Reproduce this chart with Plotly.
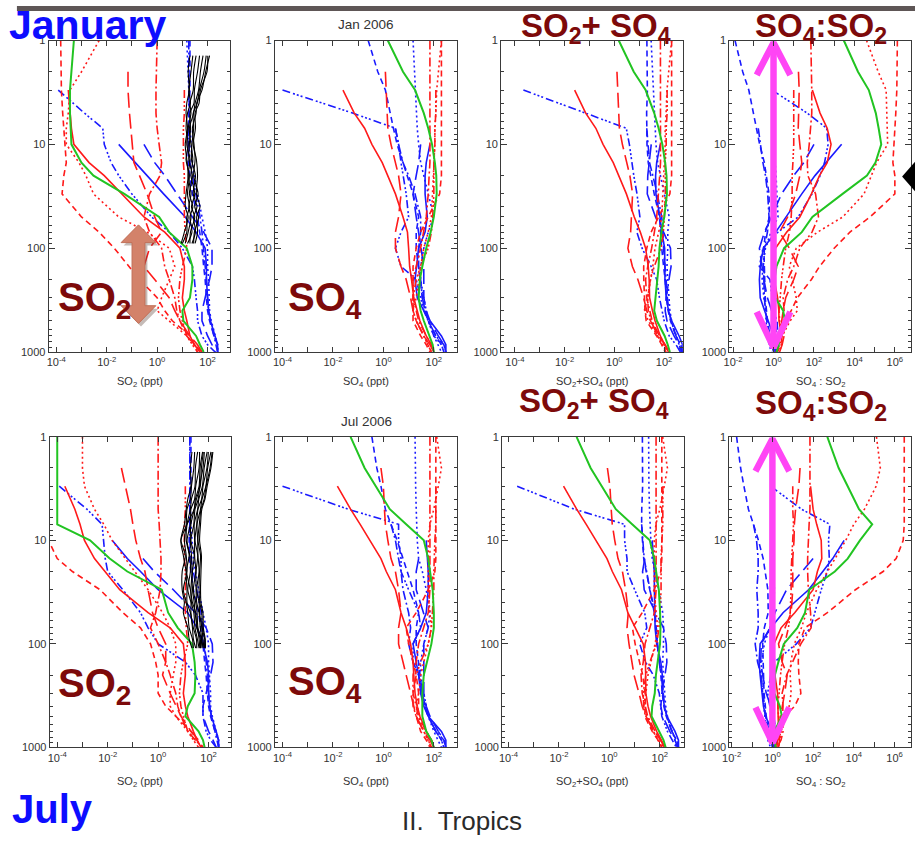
import plotly.graph_objects as go

N = None

# Pressure levels (hPa) shared by all model profiles
P = [1, 2, 3, 5, 7, 10, 15, 20, 30, 50, 70, 100, 150, 200, 300, 400, 500, 700, 850, 1000]

# ---------------- January, SO2 (ppt) ----------------
jan_so2_red_solid = [N, N, 3e-4, 3.5e-4, 4e-4, 5e-4, 2e-3, 8e-3, 0.04, 0.3, 2, 8, 12, 12, 10, 12, 15, 20, 30, 50]
jan_so2_red_dot = [5e-3, 1e-3, 3.5e-4, 3e-4, 2.5e-4, 2.5e-4, 8e-4, 1.5e-3, 3e-3, 0.03, 0.4, 3, 5, 3, 1.5, 1, 3, 15, 30, 60]
jan_so2_red_dash = [1.5e-4, 1.5e-4, 1.6e-4, 1.8e-4, 2e-4, 2.2e-4, 2.5e-4, 2e-4, 1.7e-4, 1e-3, 5e-3, 0.02, 0.08, 0.2, 1, 2, 4, 20, 30, 40]
jan_so2_red_dashdot = [1, 0.9, 0.9, 0.9, 1, 1.2, 1.5, 1.3, 0.5, 0.3, 0.5, 1.5, 2, 3, 5, 6, 8, 15, 30, 60]
jan_so2_red_dash3dot = [N, N, 12, 12, 11, 11, 11, 12, 12, 12, 13, 15, 10, 8, 7, 8, 10, 15, 25, 40]
jan_so2_red_longdash = [N, 0.07, 0.07, 0.08, 0.09, 0.1, 0.12, 0.2, 0.4, 0.8, 1.5, 0.5, 0.3, 0.8, 3, 5, 8, 20, 40, 60]
jan_so2_blue_solid = [N, N, N, N, N, 0.03, 0.13, 0.4, 1.8, 13, 35, 80, 90, 90, 100, 110, 130, 200, 250, 250]
jan_so2_blue_dot = [15, 17, 18, 20, 20, 22, 25, 30, 40, 60, 80, 100, 100, 110, 120, 120, 140, 200, 250, 250]
jan_so2_blue_dash = [20, 20, 20, 18, 17, 17, 17, 20, 25, 40, 50, 60, 70, 80, 90, 100, 120, 180, 250, 250]
jan_so2_blue_dashdot = [18, 18, 18, 17, 17, 18, 20, 25, 35, 50, 60, 70, 80, 90, 100, 110, 130, 180, 220, 250]
jan_so2_blue_dash3dot = [N, N, 1.2e-4, 1.3e-3, 7e-3, 8e-3, 0.015, 0.03, 0.1, 0.6, 3, 10, 25, 30, 35, 40, 40, 60, 100, 200]
jan_so2_blue_longdash = [N, N, N, N, N, 0.3, 0.8, 2, 6, 25, 70, 150, 150, 120, 80, 60, 60, 100, 150, 200]
jan_so2_green = [5e-4, 4e-4, 3.5e-4, 3.5e-4, 3.8e-4, 4e-4, 1e-3, 3e-3, 0.05, 1.2, 3, 15, 25, 25, 20, 10, 11, 35, 50, 70]

# ---------------- January, SO4 (ppt) ----------------
jan_so4_red_solid = [N, N, 0.025, 0.07, 0.18, 0.35, 0.9, 1.5, 3, 6, 9, 10, 11, 13, 16, 22, 28, 50, 80, 100]
jan_so4_red_dot = [200, 150, 130, 120, 110, 110, 100, 100, 90, 80, 60, 40, 30, 25, 20, 15, 20, 40, 60, 80]
jan_so4_red_dash = [200, 200, 200, 200, 200, 200, 200, 200, 170, 60, 30, 20, 15, 15, 15, 15, 15, 30, 50, 70]
jan_so4_red_dashdot = [70, 70, 70, 70, 70, 70, 70, 65, 60, 50, 40, 30, 20, 15, 15, 20, 25, 50, 80, 100]
jan_so4_red_dash3dot = [N, N, 120, 120, 110, 110, 100, 100, 100, 90, 80, 60, 30, 20, 15, 15, 20, 40, 60, 80]
jan_so4_red_longdash = [N, 1.2, 1.3, 1.4, 1.5, 2, 3, 4, 5, 4, 3, 3, 5, 8, 12, 15, 20, 40, 70, 100]
jan_so4_blue_solid = [N, N, N, N, N, 70, 50, 45, 45, 55, 45, 25, 20, 18, 22, 40, 70, 200, 300, 300]
jan_so4_blue_dot = [15, 17, 19, 20, 22, 25, 30, 40, 60, 100, 60, 40, 30, 30, 40, 50, 60, 100, 150, 200]
jan_so4_blue_dash = [0.25, 0.6, 1.2, 1.8, 2.5, 3.5, 6, 9, 15, 25, 20, 20, 25, 30, 35, 45, 60, 120, 200, 250]
jan_so4_blue_dashdot = [N, N, N, N, 3, 4, 6, 10, 18, 30, 30, 25, 25, 30, 35, 45, 60, 120, 250, 300]
jan_so4_blue_dash3dot = [N, N, 1e-4, 0.06, 3, 4, 5, 6, 8, 10, 5, 3, 5, 20, 30, 40, 60, 100, 200, 250]
jan_so4_blue_longdash = [N, N, N, N, N, 30, 25, 20, 15, 20, 25, 30, 40, 40, 40, 50, 70, 150, 250, 300]
jan_so4_green = [1.5, 6, 18, 40, 60, 85, 110, 125, 130, 100, 75, 50, 35, 28, 25, 30, 40, 70, 90, 100]

# ---------------- July, SO2 (ppt) ----------------
jul_so2_red_solid = [N, N, 2e-4, 5e-4, 8e-4, 1.2e-3, 3e-3, 8e-3, 0.03, 0.4, 3, 10, 12, 12, 10, 12, 15, 25, 35, 50]
jul_so2_red_dot = [1e-3, 1e-3, 1.2e-3, 3e-3, 7e-3, 0.015, 0.05, 0.12, 0.4, 1.5, 3, 5, 5, 4, 3, 3, 5, 15, 30, 60]
jul_so2_red_dash = [4e-5, 4e-5, 4e-5, 4e-5, 4e-5, 4.5e-5, 1e-4, 4e-4, 5e-3, 0.04, 0.2, 0.5, 0.8, 1, 1, 2, 5, 20, 35, 50]
jul_so2_red_dashdot = [1, 1, 1, 1, 1.1, 1.2, 1.3, 1.3, 1.2, 0.8, 0.5, 1, 2, 3, 5, 6, 8, 15, 30, 60]
jul_so2_red_dash3dot = [N, N, 12, 12, 11, 11, 11, 12, 12, 12, 13, 15, 10, 8, 7, 8, 10, 15, 25, 40]
jul_so2_red_longdash = [N, 0.035, 0.05, 0.08, 0.1, 0.13, 0.2, 0.3, 0.4, 0.6, 1, 2, 2, 1.5, 3, 5, 8, 20, 40, 60]
jul_so2_blue_solid = [N, N, N, N, N, 0.015, 0.06, 0.2, 1, 15, 35, 60, 90, 100, 100, 110, 130, 200, 250, 250]
jul_so2_blue_dot = [18, 18, 18, 19, 20, 22, 25, 30, 40, 60, 80, 100, 100, 110, 120, 120, 140, 200, 250, 250]
jul_so2_blue_dash = [20, 20, 20, 18, 17, 17, 17, 20, 25, 40, 50, 60, 70, 80, 90, 100, 120, 180, 250, 250]
jul_so2_blue_dashdot = [18, 18, 18, 17, 17, 18, 20, 25, 35, 50, 60, 70, 80, 90, 100, 110, 130, 180, 220, 250]
jul_so2_blue_dash3dot = [N, N, 1.2e-4, 1.5e-3, 6e-3, 7e-3, 8e-3, 0.01, 0.04, 0.2, 0.4, 1, 12, 30, 60, 60, 60, 80, 120, 200]
jul_so2_blue_longdash = [N, N, N, N, N, N, 0.25, 0.7, 4, 30, 80, 140, 150, 120, 80, 60, 60, 100, 150, 200]
jul_so2_green = [1e-4, 1e-4, 1e-4, 1e-4, 1e-4, 2e-3, 0.012, 0.06, 1.4, 2.5, 6, 22, 28, 30, 28, 15, 12, 40, 60, 70]

# ---------------- July, SO4 (ppt) ----------------
jul_so4_red_solid = [N, N, 0.015, 0.05, 0.12, 0.3, 0.8, 1.3, 3, 5, 8, 12, 15, 16, 18, 22, 28, 50, 80, 100]
jul_so4_red_dot = [130, 200, 150, 100, 70, 60, 60, 60, 60, 70, 80, 60, 40, 30, 25, 20, 25, 40, 60, 80]
jul_so4_red_dash = [120, 120, 120, 120, 120, 120, 120, 110, 60, 20, 8, 10, 15, 20, 25, 25, 20, 30, 50, 70]
jul_so4_red_dashdot = [70, 70, 70, 70, 70, 70, 70, 70, 70, 60, 40, 25, 20, 15, 15, 20, 25, 50, 80, 100]
jul_so4_red_dash3dot = [N, N, 120, 120, 120, 110, 100, 100, 100, 90, 80, 60, 30, 20, 15, 15, 20, 40, 60, 80]
jul_so4_red_longdash = [N, 0.8, 1, 1.1, 1.2, 1.5, 2, 3, 4, 5, 4, 4, 6, 8, 12, 15, 20, 40, 70, 100]
jul_so4_blue_solid = [N, N, N, N, N, 50, 55, 60, 60, 50, 30, 15, 20, 25, 30, 40, 60, 200, 300, 300]
jul_so4_blue_dot = [18, 18, 19, 20, 21, 22, 25, 35, 50, 70, 60, 40, 30, 30, 40, 50, 60, 100, 150, 200]
jul_so4_blue_dash = [0.35, 0.55, 0.8, 1.2, 2, 3.5, 6, 9, 15, 25, 20, 20, 25, 30, 35, 45, 60, 120, 200, 250]
jul_so4_blue_dashdot = [N, N, N, N, 2, 3, 4, 5, 6, 10, 12, 10, 15, 25, 35, 45, 60, 120, 250, 300]
jul_so4_blue_dash3dot = [N, N, 1e-4, 0.04, 4, 4, 5, 5, 10, 25, 30, 15, 15, 25, 35, 45, 60, 120, 200, 250]
jul_so4_blue_longdash = [N, N, N, N, N, N, 25, 20, 20, 40, 60, 40, 40, 40, 40, 50, 70, 150, 250, 300]
jul_so4_green = [0.05, 0.18, 0.5, 1.8, 8, 40, 60, 70, 90, 100, 100, 80, 55, 40, 35, 35, 35, 50, 80, 100]

# ---------------- Observed SO2 profiles (ppt) ----------------
obs_p_jan = [1.4, 2, 3, 4, 5, 7, 10, 14, 20, 30, 40, 50, 70, 90]
obs_jan_1 = [20, 17, 19, 15, 14, 16, 13, 15, 17, 14, 13, 17, 12, 9]
obs_jan_2 = [26, 22, 18, 21, 16, 14, 17, 14, 19, 16, 19, 15, 15, 10]
obs_jan_3 = [35, 28, 27, 20, 22, 17, 15, 20, 17, 22, 18, 22, 17, 13]
obs_jan_4 = [48, 40, 30, 29, 20, 21, 19, 18, 25, 19, 26, 20, 24, 16]
obs_jan_5 = [66, 52, 44, 32, 28, 19, 22, 26, 22, 31, 23, 31, 21, 20]
obs_jan_6 = [88, 72, 47, 39, 27, 28, 24, 23, 33, 27, 38, 28, 33, 24]
obs_jan_7 = [120, 84, 60, 37, 35, 25, 29, 32, 28, 42, 31, 44, 30, 28]
obs_jan_8 = [102, 95, 52, 46, 32, 33, 27, 36, 40, 36, 50, 37, 40, 32]

obs_p_jul = [1.4, 2, 3, 4, 5, 7, 10, 14, 20, 30, 40, 50, 70, 90, 110]
obs_jul_1 = [22, 19, 20, 15, 13, 11, 8, 12, 9, 9, 11, 10, 15, 17, 22]
obs_jul_2 = [28, 26, 21, 19, 14, 13, 11, 13, 14, 10, 13, 15, 17, 23, 25]
obs_jul_3 = [37, 30, 29, 21, 19, 14, 13, 17, 13, 14, 14, 19, 23, 25, 31]
obs_jul_4 = [44, 42, 31, 28, 20, 19, 14, 18, 19, 15, 20, 20, 25, 33, 34]
obs_jul_5 = [58, 46, 42, 30, 27, 20, 19, 21, 22, 20, 21, 26, 29, 36, 42]
obs_jul_6 = [68, 60, 44, 39, 29, 26, 20, 27, 23, 23, 27, 29, 36, 42, 45]
obs_jul_7 = [88, 67, 57, 41, 37, 27, 28, 28, 31, 25, 31, 35, 38, 52, 50]
obs_jul_8 = [98, 86, 60, 53, 38, 34, 29, 37, 32, 32, 34, 42, 47, 54, 60]
obs_jul_9 = [124, 92, 78, 55, 48, 35, 37, 38, 42, 34, 42, 44, 54, 60, 66]
obs_jul_10 = [138, 114, 80, 67, 50, 43, 38, 48, 44, 42, 45, 54, 56, 70, 68]
obs_jul_11 = [62, 52, 47, 33, 27, 14, 8, 10, 13, 19, 23, 31, 34, 47, 48]
obs_jul_12 = [148, 124, 88, 72, 54, 48, 44, 52, 50, 48, 50, 60, 62, 74, 75]

# Axis tick decades
SPEC_DECADES = [-4, -3, -2, -1, 0, 1, 2]
RATIO_DECADES = [-2, -1, 0, 1, 2, 3, 4, 5, 6]
P_MAJOR = [1, 10, 100, 1000]
P_MINOR = [m * d for d in (1, 10, 100) for m in range(2, 10)]

RED, BLUE, GREEN = "#ff1a1a", "#1a1aff", "#22c422"
STYLE = {
    "blue_solid": (BLUE, "solid"),
    "blue_dot": (BLUE, "2px,3px"),
    "blue_dash": (BLUE, "6px,4px"),
    "blue_dashdot": (BLUE, "9px,3px,2px,3px"),
    "blue_dash3dot": (BLUE, "8px,3px,2px,2px,2px,2px,2px,3px"),
    "blue_longdash": (BLUE, "15px,6px"),
    "red_solid": (RED, "solid"),
    "red_dot": (RED, "2px,3px"),
    "red_dash": (RED, "6px,4px"),
    "red_dashdot": (RED, "9px,3px,2px,3px"),
    "red_dash3dot": (RED, "8px,3px,2px,2px,2px,2px,2px,3px"),
    "red_longdash": (RED, "15px,6px"),
    "green": (GREEN, "solid"),
}
ORDER = list(STYLE.keys())

g = globals()
SO2 = {m: {k: g[f"{m}_so2_{k}"] for k in ORDER} for m in ("jan", "jul")}
SO4 = {m: {k: g[f"{m}_so4_{k}"] for k in ORDER} for m in ("jan", "jul")}
OBS = {
    "jan": (obs_p_jan, [g[f"obs_jan_{i}"] for i in range(1, 9)]),
    "jul": (obs_p_jul, [g[f"obs_jul_{i}"] for i in range(1, 13)]),
}


def combine(a, b, op):
    return [None if (u is None or v is None) else op(u, v) for u, v in zip(a, b)]


W, H = 915, 850


def fx(px):
    return px / W


def fy(py):
    return 1 - py / H


# panel boxes in pixels: (left, right) per column and (top, bottom) per row
COLS_TOP = [(42, 225), (270, 453), (498, 681), (728, 911)]
COLS_BOT = [(43, 226), (270, 453), (499, 682), (728, 911)]
ROWS = [(35, 351), (437, 752)]
XRANGES = {
    0: [[-4.3, 2.9], [-4.3, 2.9], [-4.55, 2.75], [-2.18, 6.8]],
    1: [[-4.3, 2.9], [-4.3, 2.9], [-4.25, 2.95], [-2.11, 6.81]],
}

fig = go.Figure()
layout = {}
AX = "#3a3a3a"
tickfont = dict(family="Liberation Sans, Arial, sans-serif", size=11, color="#333333")

for r, month in enumerate(("jan", "jul")):
    cols = COLS_TOP if r == 0 else COLS_BOT
    for c in range(4):
        idx = r * 4 + c + 1
        xa = "x" if idx == 1 else f"x{idx}"
        ya = "y" if idx == 1 else f"y{idx}"
        decs = RATIO_DECADES if c == 3 else SPEC_DECADES
        layout["xaxis" if idx == 1 else f"xaxis{idx}"] = dict(
            domain=[fx(cols[c][0]), fx(cols[c][1])], anchor=ya, type="log",
            range=XRANGES[r][c], tickvals=[10.0 ** d for d in decs],
            ticktext=[f"10<sup>{d}</sup>" if d % 2 == 0 else "" for d in decs],
            ticks="inside", ticklen=5, tickcolor=AX, showline=True, linecolor=AX,
            linewidth=1, mirror="ticks", showgrid=False, zeroline=False,
            tickfont=tickfont, fixedrange=True)
        layout["yaxis" if idx == 1 else f"yaxis{idx}"] = dict(
            domain=[fy(ROWS[r][1]), fy(ROWS[r][0])], anchor=xa, type="log",
            range=[3, 0], tickvals=P_MAJOR, ticktext=[str(v) for v in P_MAJOR],
            ticks="inside", ticklen=6, tickcolor=AX, showline=True, linecolor=AX,
            linewidth=1, mirror="ticks", showgrid=False, zeroline=False,
            minor=dict(tickvals=P_MINOR, ticks="inside", ticklen=3, tickcolor=AX),
            tickfont=tickfont, fixedrange=True)

        for key in ORDER:
            a, b = SO2[month][key], SO4[month][key]
            if c == 0:
                vals = a
            elif c == 1:
                vals = b
            elif c == 2:
                vals = combine(a, b, lambda u, v: u + v)
            else:
                vals = combine(b, a, lambda u, v: u / v)
            color, dash = STYLE[key]
            fig.add_trace(go.Scatter(
                x=vals, y=P, mode="lines", xaxis=xa, yaxis=ya,
                line=dict(color=color, dash=dash, width=2.0 if key == "green" else 1.6),
                showlegend=False, hoverinfo="skip"))

        if c == 0:
            op, lines = OBS[month]
            for vals in lines:
                fig.add_trace(go.Scatter(
                    x=vals, y=op, mode="lines", xaxis=xa, yaxis=ya,
                    line=dict(color="black", width=1.1, shape="spline", smoothing=0.8),
                    showlegend=False, hoverinfo="skip"))

        if c == 3:
            # double-headed arrow marking SO4:SO2 = 1
            pink = "#ff45f5"
            for xs, ys in (([1, 1], [1.08, 880]),
                           ([10 ** -0.83, 1, 10 ** 0.83], [2.15, 1.05, 2.15]),
                           ([10 ** -0.83, 1, 10 ** 0.83], [410, 905, 410])):
                fig.add_trace(go.Scatter(
                    x=xs, y=ys, mode="lines", xaxis=xa, yaxis=ya,
                    line=dict(color=pink, width=6.5), showlegend=False, hoverinfo="skip"))

layout.update(
    width=W, height=H, margin=dict(l=0, r=0, t=0, b=0),
    paper_bgcolor="white", plot_bgcolor="white",
    font=dict(family="Liberation Sans, Arial, sans-serif"),
)
fig.update_layout(**layout)


def path(points):
    return "M " + " L ".join(f"{fx(x):.5f},{fy(y):.5f}" for x, y in points) + " Z"


shapes = []
# dark band along the top edge
shapes.append(dict(type="rect", xref="paper", yref="paper", x0=fx(10), x1=1.0,
                    y0=fy(5), y1=1.0, fillcolor="#5e5656", line=dict(width=0), layer="below"))
# vertical double arrow in the first panel
cx, tt, bt, bb, tb, hw, sw = 132.5, 222, 240, 304, 322, 17.5, 6.5
arrow = [(cx, tt), (cx + hw, bt), (cx + sw, bt), (cx + sw, bb), (cx + hw, bb), (cx, tb),
         (cx - hw, bb), (cx - sw, bb), (cx - sw, bt), (cx - hw, bt)]
shadow = [(x + 2.5, y + 3) for x, y in arrow]
shapes.append(dict(type="path", xref="paper", yref="paper", path=path(shadow),
                   fillcolor="rgba(90,60,50,0.35)", line=dict(width=0)))
shapes.append(dict(type="path", xref="paper", yref="paper", path=path(arrow),
                   fillcolor="#d3826a", line=dict(color="#c27058", width=1)))
# pointer at the right edge
shapes.append(dict(type="path", xref="paper", yref="paper",
                   path=path([(902, 173), (915, 158), (915, 188)]),
                   fillcolor="black", line=dict(width=0)))
fig.update_layout(shapes=shapes)

ann = []


def text(x, y, s, size, color, bold=False, family="Liberation Sans, Arial, sans-serif", xanchor="center"):
    ann.append(dict(x=fx(x), y=fy(y), xref="paper", yref="paper", showarrow=False,
                    text=f"<b>{s}</b>" if bold else s, xanchor=xanchor, yanchor="middle",
                    font=dict(size=size, color=color, family=family)))


DARKRED = "#7d0a0a"
BLUEBIG = "#0d0dff"
text(0, 19, "January", 41, BLUEBIG, bold=True, xanchor="left")
text(3, 815, "July", 40, BLUEBIG, bold=True, xanchor="left")
text(459, 827, "II.  Tropics", 26, "#2a2a2a")
text(362, 19, "Jan 2006", 13.5, "#333333")
text(362, 421, "Jul 2006", 13.5, "#333333")

# x-axis titles
for yy in (381, 787):
    text(134, yy, "SO<sub>2</sub> (ppt)", 11, "#333333")
    text(362, yy, "SO<sub>4</sub> (ppt)", 11, "#333333")
    text(590, yy, "SO<sub>2</sub>+SO<sub>4</sub> (ppt)", 11, "#333333")
    text(820, yy, "SO<sub>4</sub> : SO<sub>2</sub>", 11, "#333333")

# large species labels
text(88, 298, "SO<sub>2</sub>", 40, DARKRED, bold=True)
text(320, 298, "SO<sub>4</sub>", 40, DARKRED, bold=True)
text(88, 690, "SO<sub>2</sub>", 40, DARKRED, bold=True)
text(320, 688, "SO<sub>4</sub>", 40, DARKRED, bold=True)
text(594, 22, "SO<sub>2</sub>+ SO<sub>4</sub>", 33, DARKRED, bold=True)
text(820, 22, "SO<sub>4</sub>:SO<sub>2</sub>", 33, DARKRED, bold=True)
text(592, 403, "SO<sub>2</sub>+ SO<sub>4</sub>", 33, DARKRED, bold=True)
text(820, 405, "SO<sub>4</sub>:SO<sub>2</sub>", 33, DARKRED, bold=True)

fig.update_layout(annotations=ann)
fig.write_html("out.html")
